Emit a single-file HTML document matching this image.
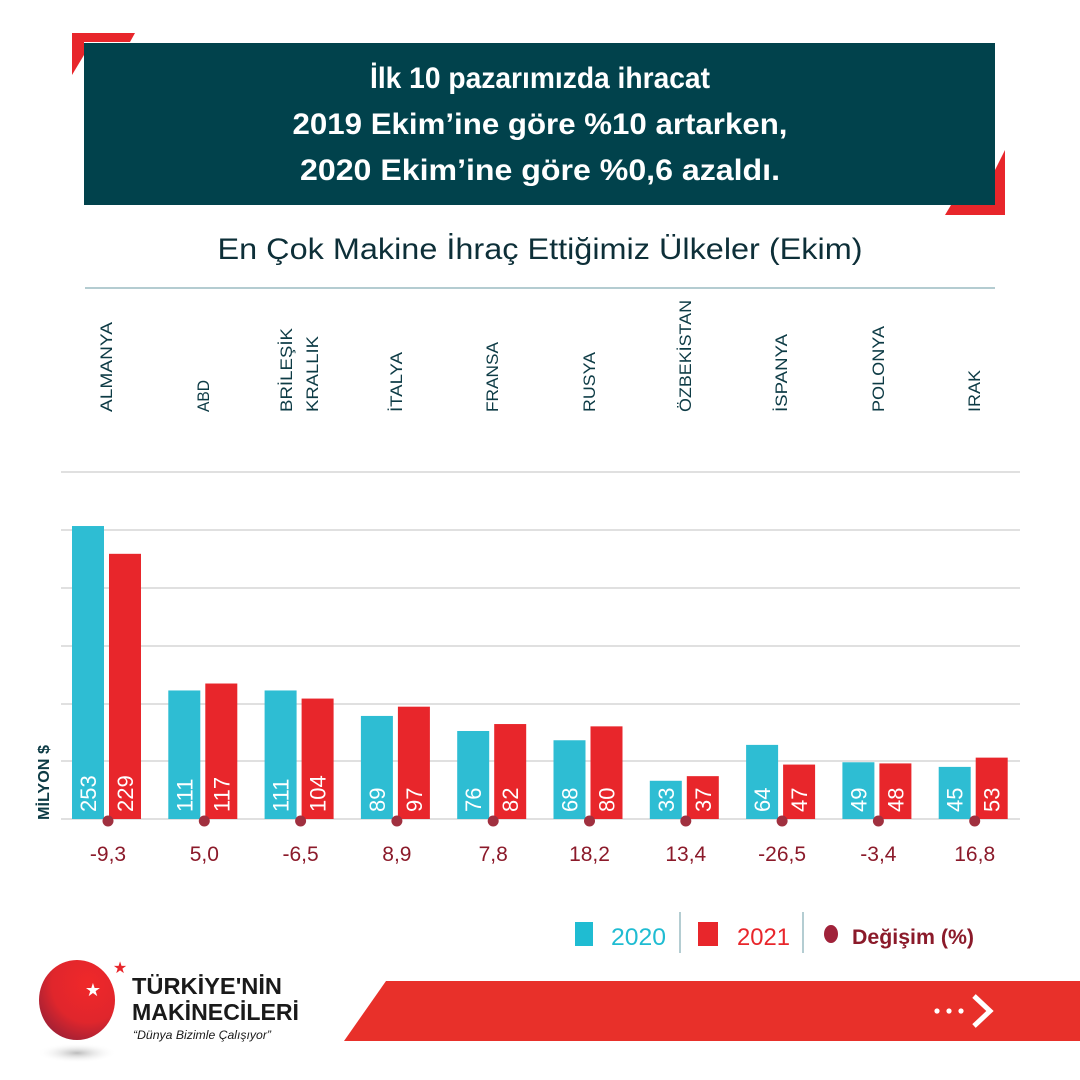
<!DOCTYPE html>
<html><head><meta charset="utf-8"><style>
html,body{margin:0;padding:0;background:#fff;}
svg{display:block;}
text{font-family:"Liberation Sans",sans-serif;}
</style></head><body>
<svg width="1080" height="1080" viewBox="0 0 1080 1080" xmlns="http://www.w3.org/2000/svg">
<!-- header -->
<polygon points="72,33 135,33 130,42 84,42 84,55 72,75" fill="#e8262b"/>
<polygon points="1005,150 1005,215 945,215 951,205 995,205 995,170" fill="#e8262b"/>
<rect x="84" y="43" width="911" height="162" fill="#01424c"/>
<g fill="#fff" font-weight="bold" font-size="30" text-anchor="middle">
<text x="540" y="88" textLength="340" lengthAdjust="spacingAndGlyphs">İlk 10 pazarımızda ihracat</text>
<text x="540" y="134" textLength="495" lengthAdjust="spacingAndGlyphs">2019 Ekim’ine göre %10 artarken,</text>
<text x="540" y="180" textLength="480" lengthAdjust="spacingAndGlyphs">2020 Ekim’ine göre %0,6 azaldı.</text>
</g>
<text x="540" y="259" font-size="30" fill="#0d2f38" text-anchor="middle" textLength="645" lengthAdjust="spacingAndGlyphs">En Çok Makine İhraç Ettiğimiz Ülkeler (Ekim)</text>
<line x1="85" y1="288" x2="995" y2="288" stroke="#9bbcc2" stroke-width="1.5"/>
<!-- country labels -->
<g fill="#0d3b45" font-size="17">
<text transform="translate(112,412) rotate(-90)" textLength="90" lengthAdjust="spacingAndGlyphs">ALMANYA</text>
<text transform="translate(209,412) rotate(-90)" textLength="32" lengthAdjust="spacingAndGlyphs">ABD</text>
<text transform="translate(292,412) rotate(-90)" textLength="84" lengthAdjust="spacingAndGlyphs">BRİLEŞİK</text>
<text transform="translate(318,412) rotate(-90)" textLength="76" lengthAdjust="spacingAndGlyphs">KRALLIK</text>
<text transform="translate(402,412) rotate(-90)" textLength="60" lengthAdjust="spacingAndGlyphs">İTALYA</text>
<text transform="translate(498,412) rotate(-90)" textLength="70" lengthAdjust="spacingAndGlyphs">FRANSA</text>
<text transform="translate(595,412) rotate(-90)" textLength="60" lengthAdjust="spacingAndGlyphs">RUSYA</text>
<text transform="translate(691,412) rotate(-90)" textLength="112" lengthAdjust="spacingAndGlyphs">ÖZBEKİSTAN</text>
<text transform="translate(787,412) rotate(-90)" textLength="78" lengthAdjust="spacingAndGlyphs">İSPANYA</text>
<text transform="translate(884,412) rotate(-90)" textLength="86" lengthAdjust="spacingAndGlyphs">POLONYA</text>
<text transform="translate(980,412) rotate(-90)" textLength="42" lengthAdjust="spacingAndGlyphs">IRAK</text>
</g>
<!-- grid -->
<g stroke="#e0e0e0" stroke-width="2">
<line x1="61" y1="472" x2="1020" y2="472"/>
<line x1="61" y1="530" x2="1020" y2="530"/>
<line x1="61" y1="588" x2="1020" y2="588"/>
<line x1="61" y1="646" x2="1020" y2="646"/>
<line x1="61" y1="704" x2="1020" y2="704"/>
<line x1="61" y1="761" x2="1020" y2="761"/>
<line x1="61" y1="819" x2="1020" y2="819"/>
</g>
<text transform="translate(49,820) rotate(-90)" font-size="16" font-weight="bold" fill="#0d3b45" textLength="75" lengthAdjust="spacingAndGlyphs">MİLYON $</text>
<g id="bars"></g>
<!-- legend -->
<rect x="575" y="922" width="18" height="24" fill="#1fbcd2"/>
<text x="611" y="945" font-size="24" fill="#1fbcd2" textLength="55" lengthAdjust="spacingAndGlyphs">2020</text>
<line x1="680" y1="912" x2="680" y2="953" stroke="#9bbcc2" stroke-width="1.5"/>
<rect x="698" y="922" width="20" height="24" fill="#e8262b"/>
<text x="737" y="945" font-size="24" fill="#e8262b" textLength="53" lengthAdjust="spacingAndGlyphs">2021</text>
<line x1="803" y1="912" x2="803" y2="953" stroke="#9bbcc2" stroke-width="1.5"/>
<ellipse cx="831" cy="934" rx="7" ry="9" fill="#a0223a"/>
<text x="852" y="944" font-size="21" font-weight="bold" fill="#8b1a2a" textLength="122" lengthAdjust="spacingAndGlyphs">Değişim (%)</text>
<!-- logo -->
<defs><radialGradient id="lg" cx="0.65" cy="0.3" r="0.8"><stop offset="0" stop-color="#f0282a"/><stop offset="0.6" stop-color="#e0262c"/><stop offset="1" stop-color="#9a2036"/></radialGradient>
<radialGradient id="sh" cx="0.5" cy="0.5" r="0.5"><stop offset="0" stop-color="#bbb"/><stop offset="1" stop-color="#fff" stop-opacity="0"/></radialGradient></defs>
<ellipse cx="77" cy="1053" rx="40" ry="10" fill="url(#sh)"/>
<ellipse cx="77" cy="1000" rx="38" ry="40" fill="url(#lg)"/>
<text x="93" y="996" font-size="18" fill="#fff" text-anchor="middle">★</text>
<text x="120" y="973" font-size="16" fill="#e8262b" text-anchor="middle">★</text>
<text x="132" y="994" font-size="23" font-weight="bold" fill="#1a1a1a" textLength="150" lengthAdjust="spacingAndGlyphs">TÜRKİYE'NİN</text>
<text x="132" y="1020" font-size="23" font-weight="bold" fill="#1a1a1a" textLength="167" lengthAdjust="spacingAndGlyphs">MAKİNECİLERİ</text>
<text x="133" y="1039" font-size="12" font-style="italic" fill="#1a1a1a" textLength="138" lengthAdjust="spacingAndGlyphs">“Dünya Bizimle Çalışıyor”</text>
<polygon points="386,981 1080,981 1080,1041 344,1041" fill="#e8302a"/>
<g fill="#fff"><circle cx="937" cy="1011" r="2.6"/><circle cx="949" cy="1011" r="2.6"/><circle cx="961" cy="1011" r="2.6"/></g>
<polyline points="974,996 990,1011 974,1026" fill="none" stroke="#fff" stroke-width="5"/>
</svg>
<script>
var d=[[253,229,"-9,3"],[111,117,"5,0"],[111,104,"-6,5"],[89,97,"8,9"],[76,82,"7,8"],[68,80,"18,2"],[33,37,"13,4"],[64,47,"-26,5"],[49,48,"-3,4"],[45,53,"16,8"]];
var s="",k=1.158,b=819;
d.forEach(function(r,i){var c=107+96.3*i;
var h1=r[0]*k,h2=r[1]*k;
s+='<rect x="'+(c-35)+'" y="'+(b-h1)+'" width="32" height="'+h1+'" fill="#2ebdd3"/>';
s+='<rect x="'+(c+2)+'" y="'+(b-h2)+'" width="32" height="'+h2+'" fill="#e8262b"/>';
s+='<text transform="translate('+(c-11)+',812) rotate(-90)" font-size="22" fill="#fff">'+r[0]+'</text>';
s+='<text transform="translate('+(c+26)+',812) rotate(-90)" font-size="22" fill="#fff">'+r[1]+'</text>';
s+='<circle cx="'+(c+1)+'" cy="821" r="5.5" fill="#a0303f"/>';
s+='<text x="'+(c+1)+'" y="861" font-size="21" fill="#8b1a2a" text-anchor="middle">'+r[2]+'</text>';});
document.getElementById("bars").outerHTML=s;
</script>
</body></html>
